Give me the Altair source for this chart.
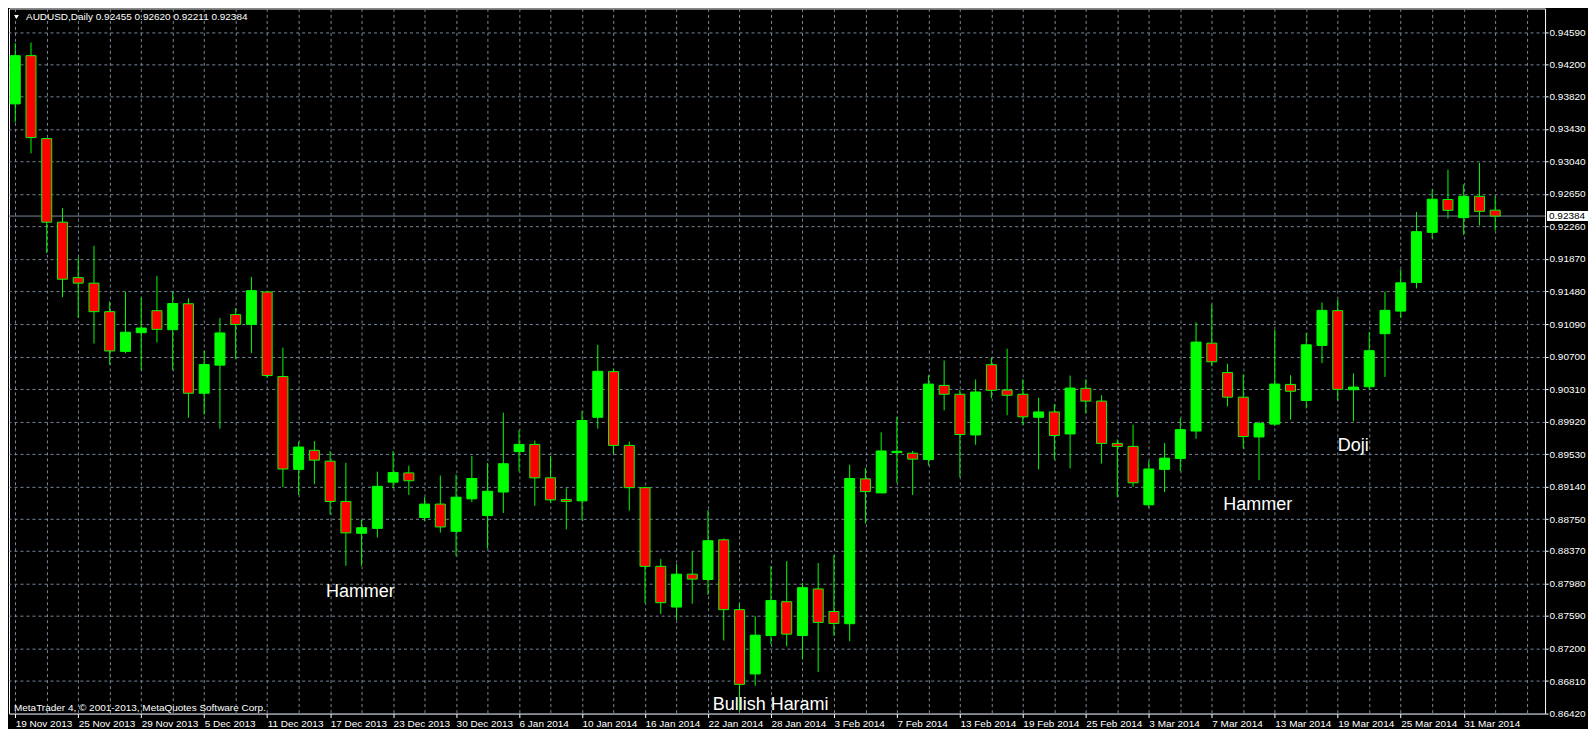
import altair as alt
import pandas as pd

# ---------------- data (AUDUSD daily) ----------------
open_ = [
    0.93729, 0.94307, 0.93313, 0.92311, 0.91646, 0.91580, 0.91238, 0.90762, 0.90986, 0.91250,
    0.91022, 0.91333, 0.90260, 0.90597, 0.91203, 0.91085, 0.91474, 0.90460, 0.89347, 0.89576,
    0.89446, 0.88963, 0.88581, 0.88640, 0.89194, 0.89305, 0.88770, 0.88931, 0.88605, 0.88994,
    0.88793, 0.89076, 0.89560, 0.89647, 0.89246, 0.88987, 0.88970, 0.89972, 0.90519, 0.89635,
    0.89128, 0.88185, 0.87697, 0.88091, 0.88027, 0.88503, 0.87666, 0.86895, 0.87355, 0.87761,
    0.87355, 0.87914, 0.87643, 0.87497, 0.89234, 0.89065, 0.89548, 0.89541, 0.89465, 0.90354,
    0.90248, 0.89760, 0.90602, 0.90299, 0.90248, 0.89972, 0.90036, 0.89772, 0.90319, 0.90166,
    0.89659, 0.89623, 0.88923, 0.89347, 0.89477, 0.89807, 0.90861, 0.90508, 0.90213, 0.89736,
    0.89890, 0.90366, 0.90173, 0.90833, 0.91250, 0.90302, 0.90338, 0.90974, 0.91245, 0.91587,
    0.92189, 0.92582, 0.92365, 0.92621, 0.92455,
]
high = [
    0.94457, 0.94464, 0.93313, 0.92480, 0.91887, 0.92028, 0.91360, 0.91474, 0.91407, 0.91666,
    0.91474, 0.91399, 0.90770, 0.91163, 0.91281, 0.91655, 0.91474, 0.90806, 0.89678, 0.89686,
    0.89568, 0.89426, 0.88743, 0.89320, 0.89568, 0.89391, 0.89014, 0.89273, 0.89285, 0.89509,
    0.89423, 0.90028, 0.89819, 0.89694, 0.89509, 0.89120, 0.90048, 0.90841, 0.90555, 0.89682,
    0.89135, 0.88271, 0.88212, 0.88365, 0.88861, 0.88519, 0.87741, 0.87584, 0.88189, 0.88248,
    0.87988, 0.88224, 0.88318, 0.89403, 0.89364, 0.89792, 0.89977, 0.89568, 0.90476, 0.90653,
    0.90299, 0.90425, 0.90684, 0.90794, 0.90429, 0.90205, 0.90130, 0.90472, 0.90429, 0.90236,
    0.89706, 0.89883, 0.89450, 0.89662, 0.89960, 0.91109, 0.91321, 0.90614, 0.90484, 0.89922,
    0.91022, 0.90476, 0.90983, 0.91348, 0.91383, 0.90499, 0.90994, 0.91478, 0.91741, 0.92433,
    0.92704, 0.92940, 0.92763, 0.93022, 0.92620,
]
low = [
    0.93509, 0.93136, 0.91941, 0.91411, 0.91163, 0.90856, 0.90602, 0.90739, 0.90535, 0.90868,
    0.90535, 0.89965, 0.90004, 0.89836, 0.90673, 0.90739, 0.90444, 0.89135, 0.89041, 0.89171,
    0.88805, 0.88192, 0.88192, 0.88530, 0.89120, 0.89041, 0.88727, 0.88589, 0.88310, 0.88955,
    0.88401, 0.88825, 0.89324, 0.88911, 0.88947, 0.88628, 0.88734, 0.89836, 0.89533, 0.88852,
    0.87744, 0.87614, 0.87544, 0.87737, 0.87843, 0.87296, 0.86447, 0.86754, 0.87249, 0.87225,
    0.87069, 0.86919, 0.87352, 0.87289, 0.88699, 0.89065, 0.89187, 0.89041, 0.89395, 0.90055,
    0.89253, 0.89642, 0.90201, 0.89996, 0.89878, 0.89347, 0.89465, 0.89359, 0.90019, 0.89418,
    0.89014, 0.89140, 0.88888, 0.89076, 0.89324, 0.89713, 0.90585, 0.90102, 0.89595, 0.89218,
    0.89866, 0.89945, 0.90078, 0.90621, 0.90173, 0.89925, 0.90307, 0.90456, 0.91163, 0.91517,
    0.92114, 0.92354, 0.92158, 0.92271, 0.92211,
]
close = [
    0.94307, 0.93325, 0.92311, 0.91627, 0.91580, 0.91238, 0.90767, 0.90991, 0.91042, 0.91026,
    0.91336, 0.90260, 0.90605, 0.90983, 0.91085, 0.91490, 0.90472, 0.89352, 0.89615, 0.89458,
    0.88963, 0.88586, 0.88648, 0.89144, 0.89309, 0.89211, 0.88931, 0.88657, 0.89014, 0.89238,
    0.89085, 0.89415, 0.89647, 0.89246, 0.88982, 0.88963, 0.89933, 0.90523, 0.89635, 0.89128,
    0.88185, 0.87749, 0.88091, 0.88032, 0.88492, 0.87666, 0.86770, 0.87360, 0.87776, 0.87372,
    0.87929, 0.87513, 0.87501, 0.89238, 0.89081, 0.89568, 0.89564, 0.89470, 0.90370, 0.90248,
    0.89765, 0.90275, 0.90295, 0.90236, 0.89977, 0.90036, 0.89753, 0.90322, 0.90166, 0.89659,
    0.89623, 0.89187, 0.89352, 0.89482, 0.89824, 0.90873, 0.90637, 0.90213, 0.89741, 0.89898,
    0.90370, 0.90284, 0.90841, 0.91254, 0.90307, 0.90334, 0.90770, 0.91254, 0.91584, 0.92197,
    0.92586, 0.92453, 0.92621, 0.92441, 0.92384,
]

date_labels = [
    "19 Nov 2013", "25 Nov 2013", "29 Nov 2013", "5 Dec 2013", "11 Dec 2013", "17 Dec 2013",
    "23 Dec 2013", "30 Dec 2013", "6 Jan 2014", "10 Jan 2014", "16 Jan 2014", "22 Jan 2014",
    "28 Jan 2014", "3 Feb 2014", "7 Feb 2014", "13 Feb 2014", "19 Feb 2014", "25 Feb 2014",
    "3 Mar 2014", "7 Mar 2014", "13 Mar 2014", "19 Mar 2014", "25 Mar 2014", "31 Mar 2014",
]
price_ticks = [
    0.94590, 0.94200, 0.93820, 0.93430, 0.93040, 0.92650, 0.92260, 0.91870, 0.91480, 0.91090,
    0.90700, 0.90310, 0.89920, 0.89530, 0.89140, 0.88750, 0.88370, 0.87980, 0.87590, 0.87200,
    0.86810, 0.86420,
]
last_price = [0.92384]
header = "AUDUSD,Daily  0.92455 0.92620 0.92211 0.92384"
footer = "MetaTrader 4, \u00a9 2001-2013, MetaQuotes Software Corp."

note_text = ["Hammer", "Bullish Harami", "Hammer", "Doji"]
note_bar = [21.92, 47.98, 78.92, 84.98]
note_price = [0.87882, 0.86526, 0.88925, 0.89633]

# ---------------- layout / style ----------------
W, H = 1538, 706
FONT = "Liberation Sans"
LIME, RED, GRID = "#00ff00", "#ff0000", "#778899"

df = pd.DataFrame({
    "bar": list(range(len(open_))),
    "open": open_, "high": high, "low": low, "close": close,
})
notes = pd.DataFrame({"text": note_text, "bar": note_bar, "price": note_price})
lp = pd.DataFrame({"price": last_price, "label": [f"{last_price[0]:.5f}"]})

lab_js = "[" + ",".join("'" + d + "'" for d in date_labels) + "]"
last_idx = 4 * (len(date_labels) - 1)
label_test = f"datum.value % 4 == 0 && datum.value <= {last_idx}"

x_scale = alt.Scale(domain=[-0.08, 96.85], nice=False, zero=False)
y_scale = alt.Scale(domain=[0.86420, 0.94873], nice=False, zero=False)

x_axis = alt.Axis(
    values=list(range(0, 97, 2)),
    labelExpr=f"({label_test}) ? {lab_js}[datum.value / 4] : ''",
    labelAlign="left", labelFlush=False, labelOverlap=False, labelBound=False,
    labelColor="white", labelFont=FONT, labelFontSize=10, labelPadding=1,
    tickColor="white", tickSize=4,
    tickOpacity={"condition": {"test": label_test, "value": 1}, "value": 0},
    domain=False, grid=True, gridColor=GRID, gridDash=[3, 3], gridWidth=1, title=None,
)
y_axis = alt.Axis(
    orient="right", values=price_ticks, format=".5f",
    labelColor="white", labelFont=FONT, labelFontSize=10, labelPadding=1,
    labelFlush=False, labelOverlap=False, labelBound=False,
    tickColor="white", tickSize=3,
    domain=False, grid=True, gridColor=GRID, gridDash=[3, 3], gridWidth=1, title=None,
)

X = alt.X("bar:Q", scale=x_scale, axis=x_axis)
base = alt.Chart(df)

wicks = base.mark_rule(color=LIME, strokeWidth=1).encode(
    x=X, y=alt.Y("low:Q", scale=y_scale, axis=y_axis), y2="high:Q"
)
price_line = alt.Chart(lp).mark_rule(color=GRID, strokeWidth=1).encode(
    y=alt.Y("price:Q", scale=y_scale, axis=y_axis)
)
bodies = base.mark_bar(size=10, stroke=LIME, strokeWidth=1).encode(
    x=X,
    y=alt.Y("open:Q", scale=y_scale, axis=y_axis),
    y2="close:Q",
    fill=alt.condition("datum.close >= datum.open", alt.value(LIME), alt.value(RED)),
)
note_marks = alt.Chart(notes).mark_text(
    font=FONT, fontSize=18, color="white", align="center", baseline="middle"
).encode(x=X, y=alt.Y("price:Q", scale=y_scale, axis=y_axis), text="text:N")

price_box = alt.Chart(lp).mark_tick(
    color="white", thickness=10, size=41, opacity=1
).encode(y=alt.Y("price:Q", scale=y_scale, axis=y_axis), x=alt.value(W + 22.5))
price_text = alt.Chart(lp).mark_text(
    font=FONT, fontSize=10, color="black", align="left", baseline="middle"
).encode(y=alt.Y("price:Q", scale=y_scale, axis=y_axis), x=alt.value(W + 4), text="label:N")

head_df = pd.DataFrame({"t": [header]})
header_mark = alt.Chart(head_df).mark_text(
    font=FONT, fontSize=10, color="white", align="left", baseline="middle"
).encode(x=alt.value(17), y=alt.value(8.5), text="t:N")
tri_mark = alt.Chart(head_df).mark_point(
    shape="triangle-down", filled=True, color="white", size=22, opacity=1
).encode(x=alt.value(7.5), y=alt.value(8.5))
foot_df = pd.DataFrame({"t": [footer]})
footer_mark = alt.Chart(foot_df).mark_text(
    font=FONT, fontSize=10, color="white", align="left", baseline="middle"
).encode(x=alt.value(5), y=alt.value(H - 6), text="t:N")

chart = (
    alt.layer(wicks, price_line, bodies, note_marks, price_box, price_text,
              header_mark, tri_mark, footer_mark)
    .properties(width=W, height=H, padding=0, background="#000000")
    .configure_view(stroke="white", strokeWidth=1, fill="#000000")
)

chart.save("out.html", embed_options={"renderer": "svg", "actions": False})
